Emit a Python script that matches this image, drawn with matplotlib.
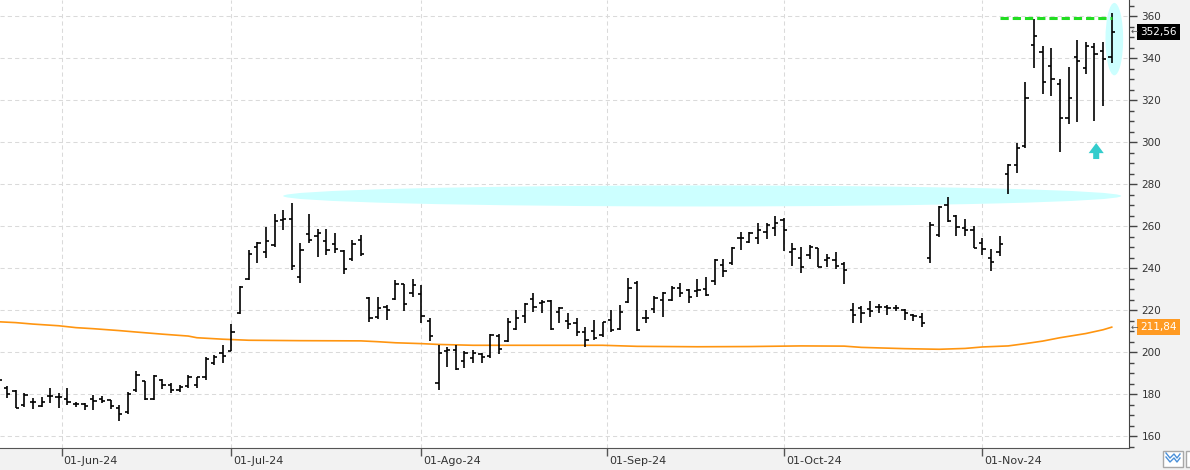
import numpy as np
import pandas as pd
from matplotlib import pyplot as plt
from matplotlib.patches import Ellipse, Rectangle
from matplotlib.lines import Line2D
import matplotlib.transforms as mtransforms

### data ###
dates = pd.bdate_range('2024-05-21', '2024-11-22', freq='C',
                       holidays=['2024-05-27', '2024-06-19', '2024-07-04', '2024-09-02'])

opens = [183, 183, 181.5, 174.8, 176.4, 174.3, 179, 178.5, 177.5, 175.1,
         175.1, 177.5, 177.5, 177.1, 173.5, 171.5, 182, 186.4, 177.5, 186.5,
         184.5, 182, 184, 184.5, 188, 194.9, 199.4, 200.6, 218.7, 234.6,
         249.8, 247.5, 251, 262.9, 263.2, 235.6, 256.2, 255.2, 252.9, 251.4,
         248.1, 244.1, 253.3, 225.6, 216.8, 221.6, 225.1, 232.2, 227.9, 227.6,
         214.9, 185.1, 200.5, 201, 195.9, 197, 198.9, 198.1, 207.6, 205.2,
         210.8, 217.1, 225.1, 223.2, 224.3, 219.2, 214.9, 213.7, 209.7, 210,
         208.1, 215.2, 210.8, 223.6, 233, 216, 220.3, 224.8, 224.8, 230.3,
         229.5, 229.2, 229.8, 234, 241.4, 242.2, 254.1, 252.5, 254.1, 257.3,
         258.9, 262.9, 247.8, 244.6, 246.2, 249.4, 243.8, 243.8, 242, 220,
         220.8, 220.3, 221.6, 221.6, 220.8, 220, 217.6, 216.8, 244.6, 255.7,
         270, 264.8, 258.9, 258.1, 252.1, 244.6, 247.8, 284.8, 289, 298.3,
         346.2, 343, 336.2, 327.6, 311.3, 340.3, 335.4, 345.4, 343.5, 340.6]
highs = [187.5, 184, 181.9, 180.3, 177.9, 178.7, 182.7, 180.3, 182.7, 176.4,
         175.6, 179.5, 179, 177.1, 175, 181.1, 191.1, 186.4, 189, 187,
         185.1, 184.3, 189, 188.3, 197.8, 198.6, 203.3, 213.3, 231.4, 248.6,
         252.5, 259.7, 265.7, 267.6, 271.1, 252, 265.7, 258.4, 258.4, 256.8,
         248.6, 253.3, 255.7, 226, 226, 222.4, 234.3, 232.2, 234.6, 231.9,
         216, 203.3, 202.5, 203.3, 200.6, 201, 199.4, 208.6, 208.6, 216,
         220, 223.2, 228.3, 224.8, 224.8, 221.6, 218.4, 216, 212.1, 215.2,
         214.4, 220, 222.4, 235.1, 233.8, 220, 226.7, 228.7, 231.4, 232.7,
         229.8, 234.6, 235.6, 244.1, 244.1, 250.2, 257.3, 257.3, 261.6, 261.6,
         264.8, 263.7, 251.7, 249.8, 250.9, 249.7, 246.5, 247.5, 243, 223.2,
         221.9, 224.3, 222.9, 222.4, 222.4, 220.5, 218.1, 218.7, 262, 269.5,
         274, 265.2, 263.2, 260, 254.1, 248.9, 255.2, 289.5, 299.4, 328.7,
         358.4, 345.7, 344.6, 329.8, 335.9, 348.6, 347.8, 347, 347.8, 361.6]
lows = [181, 178, 173.2, 173.6, 172.7, 173.6, 175.6, 173.2, 174.8, 174,
        172.4, 172.4, 175.6, 172.7, 167.3, 170.5, 181.1, 177.1, 177.1, 182.2,
        180.3, 181.1, 182.7, 182.7, 186.7, 193.8, 194.9, 200.6, 218.1, 234.3,
        242.2, 244.6, 250.2, 258.1, 239, 233, 251.7, 245.4, 246, 247,
        237, 243.5, 245.7, 214.4, 215.6, 215.2, 224.8, 219.7, 226.3, 214,
        205.4, 181.9, 192.7, 191.4, 192.2, 194.6, 194.6, 197, 198.9, 204.9,
        210.5, 214, 219.2, 218.7, 210.5, 213.7, 210.8, 207.6, 202.5, 205.7,
        207, 209.7, 210.5, 223.5, 210.2, 213.7, 218.4, 216.8, 224.4, 226.4,
        223.5, 226.4, 226.7, 231.9, 235.9, 241.4, 248.6, 251.7, 251.4, 253.7,
        255.2, 248.3, 241.1, 237.8, 244.1, 240.6, 240.3, 239.4, 232.2, 214,
        213.7, 216.8, 218.7, 217.6, 219.7, 215.2, 214.9, 212, 242.5, 254.9,
        262, 255.2, 255.2, 249.4, 246.2, 238.7, 245.9, 275.2, 285.4, 297.3,
        335.1, 322.9, 321.9, 295.4, 308.6, 309.7, 332.4, 310.2, 317.1, 337.5]
closes = [186.7, 180, 173.5, 179.5, 176.4, 176.4, 179, 178.7, 176.4, 175.1,
          174.5, 176.8, 176.8, 174.3, 170.5, 180, 189, 177.5, 188.5, 184.5,
          182, 183.5, 188, 188, 196.7, 197.5, 198.1, 209.7, 231.1, 246.5,
          251.7, 252.9, 262.4, 263.2, 241, 248.6, 253.3, 256.5, 248.6, 248.9,
          239.4, 251.4, 246.5, 216.3, 220.8, 220, 232.2, 222.7, 231.9, 217.1,
          207.6, 199.4, 201, 191.7, 199.7, 199.4, 197.5, 208.1, 201.3, 214.4,
          216, 222.9, 221.3, 224, 210.8, 220.8, 213.3, 209.7, 205.7, 206.5,
          214.1, 210.5, 219.2, 230.3, 210.5, 216, 225.9, 228.3, 230.3, 227.9,
          226.4, 229.5, 227.1, 243.8, 238.7, 249.7, 254.1, 256.8, 258.1, 260.5,
          261.3, 258.1, 248.9, 240.6, 250.2, 240.6, 244.6, 241, 239.2, 217.6,
          218.7, 219.5, 221.6, 220.8, 221.1, 218.4, 217.1, 213.6, 260.5, 269.2,
          262.5, 259.7, 258.1, 249.7, 249.1, 243, 251.3, 289, 297, 320.8,
          350.5, 328.7, 329.8, 311.3, 320.8, 338.6, 345.7, 341.9, 339.5, 352.56]

# moving average, read at a few bars
ma_idx = [0, 2, 4, 7, 9, 11, 14, 16, 19, 22, 23, 26, 29, 35, 42, 44, 46, 49, 51,
          55, 70, 74, 81, 87, 93, 98, 100, 105, 109, 112, 114, 117, 119, 121,
          123, 126, 128, 129]
ma_val = [214.4, 214.0, 213.3, 212.5, 211.6, 211.1, 210.2, 209.5, 208.5, 207.6,
          206.8, 206.1, 205.6, 205.4, 205.3, 204.9, 204.4, 204.0, 203.6, 203.2,
          203.2, 202.7, 202.5, 202.6, 202.9, 202.8, 202.2, 201.6, 201.3, 201.7,
          202.4, 202.9, 204.0, 205.2, 206.8, 208.8, 210.6, 211.84]

month_starts = ['2024-06-01', '2024-07-01', '2024-08-01', '2024-09-01', '2024-10-01', '2024-11-01']
month_labels = ['01-Jun-24', '01-Jul-24', '01-Ago-24', '01-Sep-24', '01-Oct-24', '01-Nov-24']

resist = 359           # green dashed level
resist_from, resist_to = 116, 129
band_level = 274.3     # wide cyan zone
band_from, band_to = 33, 130.1
###--------------------------###

idx = np.arange(len(dates))
opens, highs, lows, closes = map(np.array, (opens, highs, lows, closes))

fig = plt.figure(figsize=(11.9, 4.7), dpi=100, facecolor='#f2f2f2')
ax = fig.add_axes([0, 22/470, 1129/1190, 448/470])
ax.set_facecolor('white')

# month positions on the trading-day axis
d_num = dates.values.astype('int64')
m_pos = [np.interp(pd.Timestamp(m).value, d_num, idx) for m in month_starts]

grid_kw = dict(color='#dadada', lw=0.75, ls=(0, (4, 3)), zorder=0)
for p in m_pos:
    ax.axvline(p, **grid_kw)
for v in range(160, 361, 20):
    ax.axhline(v, **grid_kw)

# highlight zones
ax.add_patch(Ellipse(((band_from + band_to)/2, band_level), band_to - band_from, 10,
                     color='#ccffff', lw=0, zorder=1))
ax.add_patch(Ellipse((129.3, 349), 2.05, 34.5, color='#ccffff', lw=0, zorder=1))

# moving average
ax.plot(ma_idx, ma_val, color='#ff9510', lw=1.2, zorder=2)

# OHLC bars
ax.vlines(idx, lows, highs, color='black', lw=1.2, zorder=3)
ax.hlines(opens, idx - 0.38, idx, color='black', lw=1.2, zorder=3)
ax.hlines(closes, idx, idx + 0.38, color='black', lw=1.2, zorder=3)

ax.hlines(resist, resist_from, resist_to, color='#22dd22', lw=2.2,
          linestyles=(0, (2.7, 1.3)), zorder=4)
ax.arrow(127.2, 291.9, 0, 7.6, width=0.7, head_width=1.75, head_length=4.8,
         length_includes_head=True, color='#33cccc', lw=0, zorder=4)

ax.set_xlim(0.19, 131.0)
ax.set_ylim(154.29, 367.62)

for s in ['top', 'left']:
    ax.spines[s].set_visible(False)
ax.spines['right'].set_color('#444444')
ax.spines['bottom'].set_color('#555555')

ax.yaxis.tick_right()
ax.set_yticks(range(160, 361, 20))
ax.set_yticks(range(155, 366, 5), minor=True)
ax.tick_params(axis='y', which='major', length=6, width=1, color='#444444',
               labelsize=7.5, labelcolor='#333333', pad=3)
ax.tick_params(axis='y', which='minor', length=3.5, width=1, color='#444444')

ax.set_xticks(m_pos)
ax.set_xticklabels(month_labels, ha='left')
ax.tick_params(axis='x', length=6, width=1, color='#555555', labelsize=8,
               labelcolor='#333333', pad=0)
off = mtransforms.ScaledTranslation(2/100, 0, fig.dpi_scale_trans)
for lab in ax.get_xticklabels():
    lab.set_transform(lab.get_transform() + off)

# last value boxes on the price scale
def price_box(val, txt, fc):
    ax.annotate(txt, xy=(1, val), xycoords=('axes fraction', 'data'),
                xytext=(11, 0), textcoords='offset pixels', ha='left', va='center',
                color='white', fontsize=7.5, annotation_clip=False, zorder=5,
                bbox=dict(boxstyle='square,pad=0.3', fc=fc, ec='none'))
    ax.annotate('←', xy=(1, val), xycoords=('axes fraction', 'data'),
                xytext=(2, 0), textcoords='offset pixels', ha='left', va='center',
                color='#555555', fontsize=6.5, annotation_clip=False, zorder=6)

price_box(closes[-1], '352,56', 'black')
price_box(ma_val[-1], '211,84', '#ff9a22')

# small toolbar button bottom right
fig.add_artist(Rectangle((1163/1190, 3/470), 20/1190, 16/470, transform=fig.transFigure,
                         fc='white', ec='#a8a8a8', lw=1))
fig.add_artist(Rectangle((1186/1190, 3/470), 8/1190, 16/470, transform=fig.transFigure,
                         fc='white', ec='#a8a8a8', lw=1))
for dy in (0, 4):
    fig.add_artist(Line2D(np.array([1166, 1170, 1174, 1177, 1180])/1190,
                          (np.array([13, 8, 12, 8, 12]) + dy)/470,
                          transform=fig.transFigure, color='#4a90d9', lw=1))

fig.savefig('out.png', dpi=100, facecolor=fig.get_facecolor())
